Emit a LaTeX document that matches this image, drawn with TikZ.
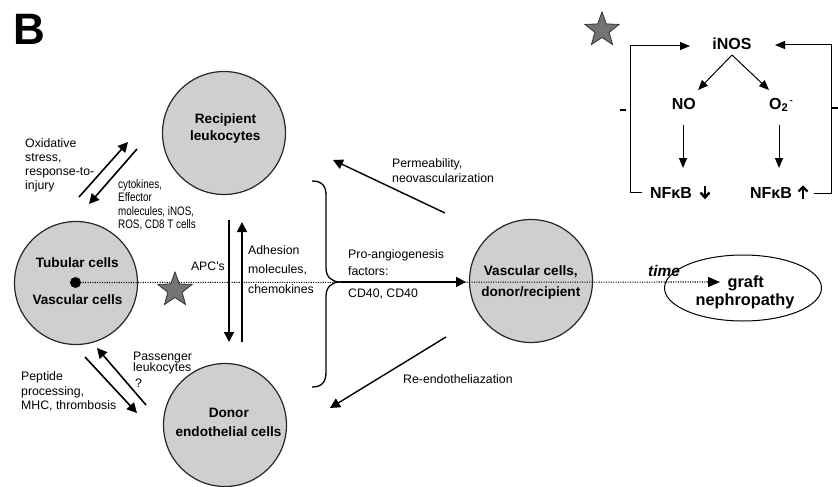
\documentclass[tikz,border=0pt]{standalone}
\usepackage{fontspec}
\usepackage{graphicx}
\setmainfont{Liberation Sans}
\usetikzlibrary{arrows.meta,shapes.geometric}
\newcommand{\narrowtxt}[1]{\scalebox{0.8}[1]{#1}}
\tikzset{
  cell/.style={circle,draw=black!85,line width=1.2pt,fill=gray!38,minimum size=123pt,inner sep=0pt},
  lbl/.style={font=\fontsize{12.3pt}{14.5pt}\selectfont,inner sep=0pt,anchor=base west},
  blbl/.style={font=\bfseries\fontsize{13.6pt}{16pt}\selectfont,inner sep=0pt,anchor=base},
  ilbl/.style={font=\bfseries\fontsize{16pt}{18pt}\selectfont,inner sep=0pt,anchor=base},
  glbl/.style={font=\bfseries\fontsize{16.3pt}{18pt}\selectfont,inner sep=0pt,anchor=base},
  mainarrow/.style={line width=1.6pt,-{Triangle[length=10pt,width=10pt]}},
  thinarrow/.style={line width=1pt,-{Triangle[length=10pt,width=8pt]}},
  fbline/.style={line width=1pt},
  glypharrow/.style={line width=2.4pt,line cap=butt,line join=miter},
  mystar/.style={star,star points=5,star point ratio=2.4,minimum size=36pt,inner sep=0pt,fill=black!55,draw=black!80,line width=0.8pt},
}
\begin{document}
\begin{tikzpicture}[x=1pt,y=-1pt]
\useasboundingbox (0,0) rectangle (838,487);

% panel letter
\node[font=\bfseries\fontsize{44pt}{44pt}\selectfont,inner sep=0pt,anchor=base] (B) at (29,45) {B};

% cells
\node[cell] (rec) at (224,133) {};
\node[cell] (tub) at (76,283) {};
\node[cell] (don) at (225,425) {};
\node[cell] (vas) at (531,281) {};
\node[ellipse,draw,line width=1pt,minimum width=157pt,minimum height=66pt,inner sep=0pt] (graft) at (743,288) {};

% brace
\draw[line width=1.3pt] (312,181) .. controls (322,181) and (326,186) .. (326,195) -- (326,268)
  .. controls (326,277) and (332,282) .. (340,282)
  .. controls (332,282) and (326,287) .. (326,296) -- (326,372)
  .. controls (326,382) and (322,387) .. (312,387);
\coordinate (bt) at (340,282);
\coordinate (vasin) at (466,282);
\draw[mainarrow] (bt) -- (vasin);

% arrow end points
\coordinate (a1s) at (79,197);  \coordinate (a1e) at (128,142);
\coordinate (a2s) at (137,149); \coordinate (a2e) at (89,204);
\coordinate (v1s) at (229,220); \coordinate (v1e) at (229,342);
\coordinate (v2s) at (242,342); \coordinate (v2e) at (242,222);
\coordinate (p1s) at (146,405); \coordinate (p1e) at (97,348);
\coordinate (p2s) at (85,357);  \coordinate (p2e) at (137,413);
\coordinate (pms) at (445,213); \coordinate (pme) at (333,160);
\coordinate (res) at (446,337); \coordinate (ree) at (330,408);

\draw[mainarrow] (a1s) -- (a1e);
\draw[mainarrow] (a2s) -- (a2e);
\draw[mainarrow] (v1s) -- (v1e);
\draw[mainarrow] (v2s) -- (v2e);
\draw[mainarrow] (p1s) -- (p1e);
\draw[mainarrow] (p2s) -- (p2e);
\draw[mainarrow,line width=1.4pt] (pms) -- (pme);
\draw[mainarrow,line width=1.4pt] (res) -- (ree);

% dotted time line
\node[circle,fill=black,inner sep=0pt,minimum size=11pt] (dot) at (75.5,282.5) {};
\coordinate (gtip) at (720,282);
\draw[line width=1.1pt,dash pattern=on 1.1pt off 1.3pt,-{Triangle[length=12pt,width=10pt]}] (dot.center) -- (gtip);

% stars
\node[mystar] (star1) at (175,290) {};
\node[mystar] (star2) at (602,30) {};

% cell labels
\node[blbl] (recA) at (225.5,123.3) {Recipient};
\node[blbl] (recB) at (225.3,140) {leukocytes};
\node[blbl] (tubA) at (77.3,267.3) {Tubular cells};
\node[blbl] (tubB) at (77.5,304.3) {Vascular cells};
\node[blbl] (donA) at (228.8,417.3) {Donor};
\node[blbl] (donB) at (228.5,436) {endothelial cells};
\node[blbl] (vasA) at (530.8,275.3) {Vascular cells,};
\node[blbl] (vasB) at (530.8,296.7) {donor/recipient};
\node[glbl] (grA) at (745.8,287) {graft};
\node[glbl] (grB) at (745,305) {nephropathy};
\node[font=\bfseries\itshape\fontsize{15.4pt}{18pt}\selectfont,inner sep=0pt,anchor=base] (time) at (664,276.7) {time};

% plain labels
\node[lbl] (ox1) at (25,147) {Oxidative};
\node[lbl] (ox2) at (25,161) {stress,};
\node[lbl] (ox3) at (25,175) {response-to-};
\node[lbl] (ox4) at (25,189) {injury};

\node[lbl] (cy1) at (118,188) {\narrowtxt{cytokines,}};
\node[lbl] (cy2) at (118,201.5) {\narrowtxt{Effector}};
\node[lbl] (cy3) at (118,215) {\narrowtxt{molecules, iNOS,}};
\node[lbl] (cy4) at (118,228.5) {\narrowtxt{ROS, CD8 T cells}};

\node[lbl,anchor=base east] (apc) at (225,270.7) {APC\textquotesingle s};

\node[lbl] (ad1) at (248,254) {Adhesion};
\node[lbl] (ad2) at (248,273.5) {molecules,};
\node[lbl] (ad3) at (248,293) {chemokines};

\node[lbl] (pr1) at (348,258.5) {Pro-angiogenesis};
\node[lbl] (pr2) at (348,275) {factors:};
\node[lbl] (pr3) at (348,297.7) {CD40, CD40};

\node[lbl] (pe1) at (392,167) {Permeability,};
\node[lbl] (pe2) at (392,182.3) {neovascularization};

\node[lbl] (ren) at (403,383.3) {Re-endotheliazation};

\node[lbl] (pa1) at (133,360) {Passenger};
\node[lbl] (pa2) at (133,371) {leukocytes};
\node[lbl] (pa3) at (135,387.7) {?};

\node[lbl] (pp1) at (21,380.7) {Peptide};
\node[lbl] (pp2) at (21,395) {processing,};
\node[lbl] (pp3) at (21,409) {MHC, thrombosis};

% inset
\node[ilbl] (inos) at (732,49) {iNOS};
\node[ilbl] (no) at (683.8,109.3) {NO};
\node[ilbl,anchor=base west] (o2) at (769,109.3) {O\textsubscript{2}\kern1.5pt\textsuperscript{\fontsize{9pt}{9pt}\selectfont -}};
\node[ilbl] (nfl) at (671,198.7) {NFκB};
\node[ilbl] (nfr) at (771,198.7) {NFκB};

\coordinate (is) at (732,55);
\coordinate (noT) at (698,90);
\coordinate (o2T) at (769,90);
\draw[thinarrow] (is) -- (noT);
\draw[thinarrow] (is) -- (o2T);
\coordinate (noS) at (683,125); \coordinate (noE) at (683,168);
\coordinate (o2S) at (779,125); \coordinate (o2E) at (779,168);
\draw[thinarrow] (noS) -- (noE);
\draw[thinarrow] (o2S) -- (o2E);

% feedback loops
\coordinate (lfS) at (642,192);
\coordinate (lfE) at (690,46);
\draw[fbline,-{Triangle[length=10pt,width=8pt]}] (lfS) -- (630,192) -- (630,46) -- (lfE);
\coordinate (rfS) at (814,193);
\coordinate (rfE) at (775,45);
\draw[fbline,-{Triangle[length=10pt,width=8pt]}] (rfS) -- (831,193) -- (831,45) -- (rfE);
\draw[line width=2pt] (620,109.5) -- (626,109.5);
\draw[line width=1.2pt] (832,108) -- (838,108);

% NFkB up/down glyph arrows
\draw[glypharrow] (705,186) -- (705,197);
\draw[glypharrow] (700.5,192.5) -- (705,197.5) -- (709.5,192.5);
\draw[glypharrow] (803,198.5) -- (803,187.5);
\draw[glypharrow] (798.5,191.5) -- (803,187) -- (807.5,191.5);
\end{tikzpicture}
\end{document}
